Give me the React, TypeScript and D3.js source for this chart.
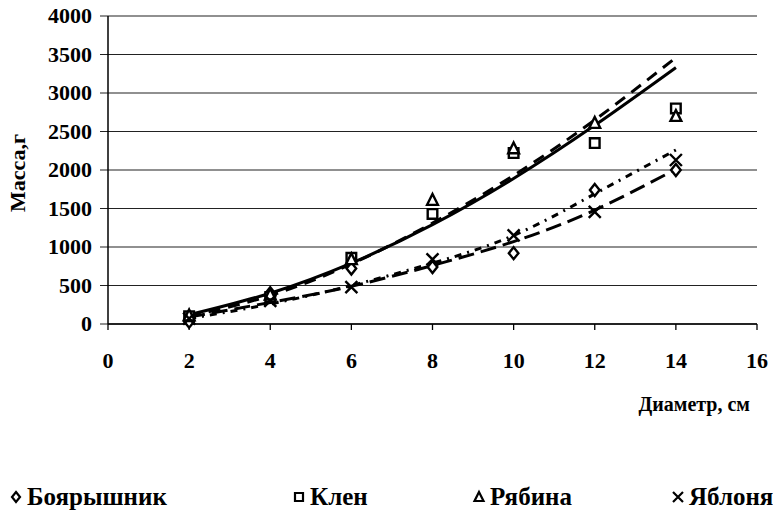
import React from "react";
import * as d3 from "d3";

// диаметр, см
const diameters = [2, 4, 6, 8, 10, 12, 14];

// масса, г (точки)
const boyaryshnik = [30, 400, 720, 740, 920, 1740, 2000];
const klen = [100, 350, 860, 1430, 2220, 2350, 2800];
const ryabina = [110, 380, 840, 1610, 2280, 2610, 2700];
const yablonya = [70, 300, 480, 840, 1150, 1455, 2130];

// линии тренда (значения)
const trendSolid = [120, 400, 790, 1290, 1890, 2580, 3330];
const trendDashUpper = [100, 370, 780, 1310, 1930, 2650, 3460];
const trendShortLower = [70, 260, 500, 790, 1150, 1690, 2260];
const trendLongLower = [90, 280, 490, 760, 1070, 1480, 2010];

const xTicks = [0, 2, 4, 6, 8, 10, 12, 14, 16];
const yTicks = [0, 500, 1000, 1500, 2000, 2500, 3000, 3500, 4000];

const legendNames = ["Боярышник", "Клен", "Рябина", "Яблоня"];

const W = 773;
const H = 517;

const x = d3.scaleLinear().domain([0, 16]).range([108, 757]);
const y = d3.scaleLinear().domain([0, 4000]).range([324, 16]);

const line = d3
  .line<[number, number]>()
  .x((d) => x(d[0]))
  .y((d) => y(d[1]))
  .curve(d3.curveNatural);

const trends = [
  { values: trendLongLower, dash: "16,7" },
  { values: trendShortLower, dash: "7,6,2,6" },
  { values: trendDashUpper, dash: "12,8" },
  { values: trendSolid, dash: undefined },
];

// маркеры: ромб, квадрат, треугольник, крест
const markerPath = (kind: number, s: number) => {
  if (kind === 0) return `M0,${-s}L${s * 0.8},0L0,${s}L${-s * 0.8},0Z`;
  if (kind === 1) return `M${-s * 0.8},${-s * 0.8}H${s * 0.8}V${s * 0.8}H${-s * 0.8}Z`;
  if (kind === 2) return `M0,${-s}L${s * 0.9},${s * 0.8}H${-s * 0.9}Z`;
  return `M${-s},${-s}L${s},${s}M${s},${-s}L${-s},${s}`;
};

const series = [boyaryshnik, klen, ryabina, yablonya];
const legendX = [16, 299, 479, 678];

const txt = (size: number) => ({ fontFamily: "Liberation Serif", fontWeight: "bold", fontSize: size });

const App = () => {
  const fmt = d3.format("d");
  return (
    <svg width={W} height={H} style={{ position: "absolute", left: 0, top: 0, background: "#fff" }}>
      {/* сетка и подписи Y */}
      {yTicks.map((t) => (
        <g key={t}>
          <line x1={100} x2={x(16)} y1={y(t)} y2={y(t)} stroke="#222" strokeWidth={1.2} />
          <text x={92} y={y(t) + 7} textAnchor="end" style={txt(22)}>
            {fmt(t)}
          </text>
        </g>
      ))}
      {/* оси */}
      <line x1={x(0)} x2={x(0)} y1={y(4000)} y2={y(0)} stroke="#000" strokeWidth={1.5} />
      <line x1={x(0)} x2={x(16)} y1={y(0)} y2={y(0)} stroke="#000" strokeWidth={1.5} />
      {xTicks.map((t) => (
        <g key={t}>
          <line x1={x(t)} x2={x(t)} y1={y(0)} y2={y(0) + 6} stroke="#000" strokeWidth={1.3} />
          <text x={x(t)} y={y(0) + 44} textAnchor="middle" style={txt(22)}>
            {t}
          </text>
        </g>
      ))}
      {/* подписи осей */}
      <text transform="translate(25,173) rotate(-90)" textAnchor="middle" style={txt(22)}>
        Масса,г
      </text>
      <text x={750} y={411} textAnchor="end" style={txt(20)}>
        Диаметр, см
      </text>
      {/* линии тренда */}
      {trends.map((t, i) => (
        <path
          key={i}
          d={line(diameters.map((d, j) => [d, t.values[j]] as [number, number])) || ""}
          fill="none"
          stroke="#000"
          strokeWidth={3}
          strokeDasharray={t.dash}
        />
      ))}
      {/* точки */}
      {series.map((vals, k) => (
        <g key={k}>
          {vals.map((v, i) => (
            <path
              key={i}
              transform={`translate(${x(diameters[i])},${y(v)})`}
              d={markerPath(k, 6)}
              fill={k === 3 ? "none" : "#fff"}
              stroke="#000"
              strokeWidth={2.4}
            />
          ))}
        </g>
      ))}
      {/* легенда */}
      {legendNames.map((name, k) => (
        <g key={name}>
          <path
            transform={`translate(${legendX[k]},497)`}
            d={markerPath(k, 5)}
            fill="#fff"
            stroke="#000"
            strokeWidth={2.2}
          />
          <text x={legendX[k] + 11} y={505} style={txt(25)}>
            {name}
          </text>
        </g>
      ))}
    </svg>
  );
};

export default App;
